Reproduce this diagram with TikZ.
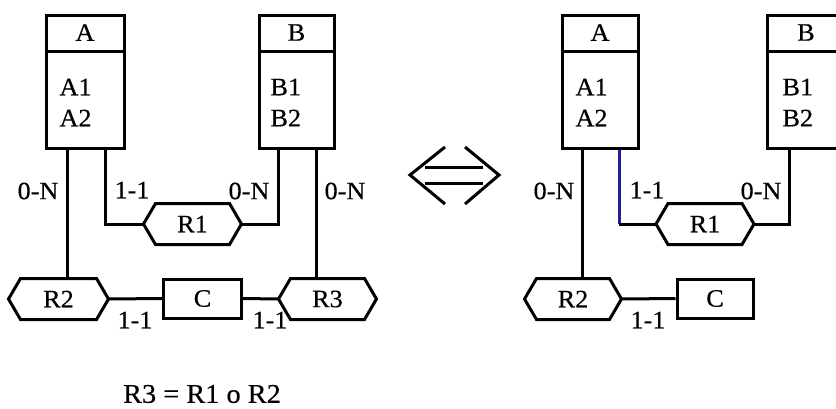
\documentclass[tikz,border=0pt]{standalone}
\usepackage{fontspec}
\setmainfont[FakeStretch=1.05,FakeBold=0.4]{Liberation Serif}
\usetikzlibrary{calc}
\definecolor{linkblue}{RGB}{35,30,150}
\newcommand\hexof[1]{%
  \draw (#1.west) -- ([xshift=12pt]#1.north west) -- ([xshift=-12pt]#1.north east)
        -- (#1.east) -- ([xshift=-12pt]#1.south east) -- ([xshift=12pt]#1.south west) -- cycle;}
\newcommand\divof[1]{%
  \draw ([yshift=-38pt]#1.north west) -- ([yshift=-38pt]#1.north east);}
\begin{document}
\begin{tikzpicture}[x=1pt,y=-1pt, line width=3pt, line join=miter,
  txt/.style={inner sep=0, font=\fontsize{25}{30}\selectfont},
  entbox/.style={draw, rectangle, inner sep=0, minimum width=#1, minimum height=133pt},
  rel/.style={txt, rectangle, minimum width=95pt, minimum height=38pt},
  cbox/.style={txt, draw, rectangle, minimum width=78pt, minimum height=39pt}]
\useasboundingbox (0,0) rectangle (836,408);
\clip (0,0) rectangle (836,408);
\fill[white] (0,0) rectangle (836,408);

% ---------------- left diagram ----------------
\node[entbox=78pt] (A) at (85,81.5) {};
\divof{A}
\node[txt] (At) at ($(A.north)+(0,19)$) {A};
\node[txt, anchor=west] (A1) at (58,87) {A1};
\node[txt, anchor=west] (A2) at (58,118) {A2};

\node[entbox=75pt] (B) at (296.5,81.5) {};
\divof{B}
\node[txt] (Bt) at ($(B.north)+(0,19)$) {B};
\node[txt, anchor=west] (B1) at (269,87) {B1};
\node[txt, anchor=west] (B2) at (269,118) {B2};

\node[rel] (R1) at (192.5,224) {R1};
\hexof{R1}
\node[rel, minimum width=97pt] (R2) at (58.5,299) {R2};
\hexof{R2}
\node[cbox] (C) at (202.5,298.5) {C};
\node[rel] (R3) at (327.5,299) {R3};
\hexof{R3}

\coordinate (aL) at (67,0);
\coordinate (aR) at (105,0);
\coordinate (bL) at (278,0);
\coordinate (bR) at (316,0);
\draw (A.south -| aL) -- (R2.north -| aL);
\draw (A.south -| aR) |- (R1.west);
\draw (B.south -| bL) |- (R1.east);
\draw (B.south -| bR) -- (R3.north -| bR);
\draw (R2.east) -- (C.west);
\draw (C.east) -- (R3.west);

\node[txt] (l1) at (38,191) {0-N};
\node[txt] (l2) at (132,190) {1-1};
\node[txt] (l3) at (249,191) {0-N};
\node[txt] (l4) at (345,191) {0-N};
\node[txt] (l5) at (135,320) {1-1};
\node[txt] (l6) at (270,320) {1-1};

\node[txt, font=\fontsize{27}{32}\selectfont] (eq) at (202,394) {R3 = R1 o R2};

% ---------------- equivalence arrow ----------------
\draw (425,167) -- (483,167);
\draw (425,183) -- (483,183);
\draw (445,147) -- (410,175) -- (445,204);
\draw (465,147) -- (499,175) -- (465,204);

% ---------------- right diagram ----------------
\node[entbox=76pt] (A') at (600,81.5) {};
\divof{A'}
\node[txt] (At') at ($(A'.north)+(0,19)$) {A};
\node[txt, anchor=west] (A1') at (574,87) {A1};
\node[txt, anchor=west] (A2') at (574,118) {A2};

\node[entbox=78pt] (B') at (806,81.5) {};
\divof{B'}
\node[txt] (Bt') at ($(B'.north)+(0,19)$) {B};
\node[txt, anchor=west] (B1') at (781,87) {B1};
\node[txt, anchor=west] (B2') at (781,118) {B2};

\node[rel] (R1') at (705,224) {R1};
\hexof{R1'}
\node[rel, minimum width=94pt] (R2') at (573,299) {R2};
\hexof{R2'}
\node[cbox, minimum width=76pt] (C') at (715,298.5) {C};

\coordinate (aL') at (582,0);
\coordinate (aR') at (619,0);
\coordinate (bL') at (789,0);
\coordinate (k') at (619,224);
\draw (A'.south -| aL') -- (R2'.north -| aL');
\draw[linkblue] (A'.south -| aR') -- (k');
\draw (k') -- (R1'.west);
\draw (B'.south -| bL') |- (R1'.east);
\draw (R2'.east) -- (C'.west);

\node[txt] (m1) at (554,191) {0-N};
\node[txt] (m2) at (647,190) {1-1};
\node[txt] (m3) at (761,191) {0-N};
\node[txt] (m5) at (648,320) {1-1};
\end{tikzpicture}
\end{document}
